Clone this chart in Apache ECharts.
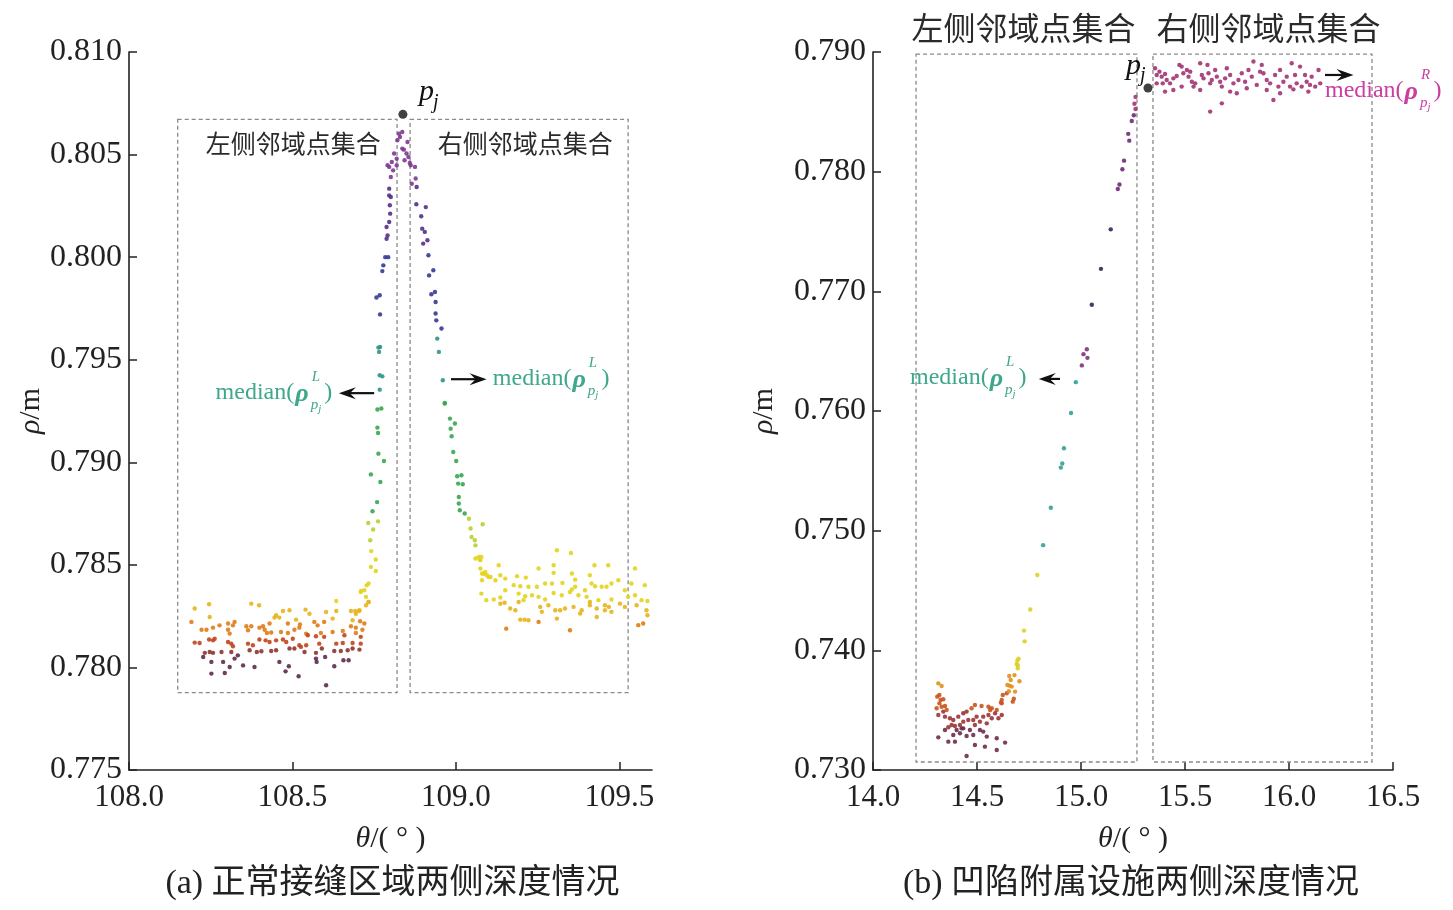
<!DOCTYPE html>
<html><head><meta charset="utf-8">
<script src="https://cdn.jsdelivr.net/npm/echarts@6/dist/echarts.min.js"></script>
<style>html,body{margin:0;padding:0;background:#fff}#c{width:1453px;height:910px}</style>
</head><body><div id="c"></div>
<script>
// ---------------- tick labels ----------------
const aXTicks = [108.0, 108.5, 109.0, 109.5];
const aYTicks = [0.775, 0.780, 0.785, 0.790, 0.795, 0.800, 0.805, 0.810];
const bXTicks = [14.0, 14.5, 15.0, 15.5, 16.0, 16.5];
const bYTicks = [0.730, 0.740, 0.750, 0.760, 0.770, 0.780, 0.790];

// ---------------- chart (a) data ----------------
const aLeftSet = [
[108.201,0.78287],[108.245,0.78308],[108.398,0.78303],[108.374,0.78311],[108.634,0.78324],[108.710,0.78373],[108.725,0.78344],[108.733,0.78319],[108.692,0.78275],[108.705,0.78279],[108.540,0.78282],[108.552,0.78262],[108.603,0.7827],[108.634,0.78275],[108.491,0.78279],[108.471,0.78275],[108.450,0.78254],
[108.191,0.78222],[108.247,0.78246],[108.303,0.78214],[108.323,0.78222],[108.318,0.78205],[108.359,0.78201],[108.374,0.78201],[108.410,0.78201],[108.430,0.78214],[108.445,0.78243],[108.460,0.78243],[108.486,0.78214],[108.511,0.78233],[108.523,0.78209],[108.567,0.78222],[108.577,0.78205],[108.597,0.78222],[108.623,0.78238],[108.684,0.7823],[108.707,0.78225],[108.720,0.78214],[108.679,0.78201],[108.694,0.78194],
[108.222,0.78184],[108.237,0.78184],[108.257,0.78194],[108.277,0.78205],[108.303,0.78184],[108.308,0.78165],[108.364,0.78181],[108.399,0.78194],[108.415,0.78184],[108.422,0.78168],[108.435,0.7817],[108.465,0.78173],[108.486,0.78168],[108.506,0.78184],[108.521,0.78194],[108.542,0.78165],[108.547,0.78157],[108.572,0.78152],[108.587,0.78168],[108.597,0.78149],[108.623,0.78173],[108.654,0.78178],[108.659,0.78157],[108.694,0.78168],[108.709,0.78149],[108.714,0.78184],
[108.201,0.78121],[108.216,0.78119],[108.245,0.78136],[108.257,0.78132],[108.262,0.7814],[108.303,0.78124],[108.313,0.78116],[108.318,0.78103],[108.364,0.78116],[108.379,0.78108],[108.399,0.78136],[108.418,0.78132],[108.430,0.78124],[108.450,0.78132],[108.471,0.78136],[108.481,0.78124],[108.501,0.7814],[108.521,0.78108],[108.526,0.781],[108.542,0.78108],[108.582,0.78116],[108.634,0.78116],[108.654,0.78119],[108.684,0.78119],[108.709,0.78116],
[108.232,0.78071],[108.247,0.78075],[108.257,0.78071],[108.283,0.78075],[108.313,0.78075],[108.333,0.78059],[108.369,0.78084],[108.391,0.78075],[108.405,0.78079],[108.435,0.7808],[108.450,0.78084],[108.491,0.78092],[108.506,0.78092],[108.537,0.78075],[108.572,0.78071],[108.590,0.78092],[108.628,0.7808],[108.648,0.7808],[108.669,0.78084],[108.684,0.78092],[108.705,0.78087],
[108.227,0.78051],[108.252,0.78027],[108.288,0.78027],[108.308,0.78002],[108.323,0.78043],[108.349,0.7801],[108.384,0.78002],[108.460,0.78027],[108.479,0.77981],[108.489,0.78006],[108.519,0.77957],[108.572,0.78043],[108.574,0.78027],[108.600,0.78051],[108.628,0.78006],[108.656,0.78035],[108.672,0.78035],[108.252,0.7797],[108.293,0.77973],[108.603,0.77913]
];
const aPeak = [
[108.760,0.79257],[108.772,0.79262],[108.760,0.79169],[108.762,0.79143],[108.763,0.79042],[108.780,0.79006],[108.740,0.78941],[108.769,0.78904],[108.759,0.78806],[108.745,0.78761],[108.732,0.78704],[108.762,0.78712],[108.747,0.78672],[108.738,0.7862],[108.741,0.78567],[108.755,0.78526],[108.740,0.7849],[108.755,0.7847],[108.727,0.784],[108.733,0.78409],[108.709,0.78368],[108.720,0.78376],[108.733,0.78319],[108.725,0.78303],[108.704,0.78275],[108.694,0.78262],[108.679,0.78275],
[108.826,0.80602],[108.836,0.8061],[108.821,0.8057],[108.829,0.80586],[108.811,0.80505],[108.819,0.8048],[108.804,0.80464],[108.796,0.8044],[108.791,0.80448],[108.808,0.80423],[108.819,0.80448],[108.801,0.80391],[108.796,0.80334],[108.796,0.80301],[108.801,0.80293],[108.798,0.80253],[108.799,0.80212],[108.796,0.80171],[108.788,0.80147],[108.791,0.80106],[108.788,0.8009],[108.784,0.8000],[108.793,0.8000],[108.778,0.7996],[108.775,0.79932],[108.767,0.79814],[108.757,0.79803],[108.768,0.79721],[108.763,0.79559],[108.768,0.79562],[108.765,0.79538],[108.767,0.79424],[108.775,0.79419],[108.767,0.79354],
[108.852,0.80561],[108.841,0.80524],[108.843,0.80472],
[108.836,0.80529],[108.849,0.80505],[108.855,0.80488],[108.859,0.80459],[108.862,0.80448],[108.875,0.8044],[108.877,0.80383],[108.865,0.80358],[108.880,0.80342],[108.879,0.80258],[108.908,0.80244],[108.894,0.80199],[108.897,0.80139],[108.905,0.80123],[108.900,0.80066],[108.913,0.80082],[108.916,0.80009],[108.931,0.79936],[108.918,0.79911],[108.936,0.7983],[108.925,0.79819],[108.938,0.79781],[108.938,0.79725],[108.940,0.79692],[108.956,0.79652],[108.943,0.79603],[108.948,0.79538],[108.960,0.794],[108.966,0.79286],
[108.966,0.79289],[108.982,0.79213],[108.997,0.79189],[108.984,0.79164],[108.987,0.79127],[108.992,0.7905],[109.001,0.79006],[109.004,0.78932],[109.017,0.78937],[109.007,0.78896],[109.021,0.78893],[109.009,0.78831],[109.009,0.78799],[109.012,0.78766],[109.027,0.7875],[109.040,0.78725],[109.045,0.78677],[109.048,0.78636],[109.058,0.7862],[109.060,0.78595],[109.073,0.78526],[109.078,0.78538],[109.082,0.78698],[109.075,0.78482],[109.085,0.78457],[109.095,0.78449],[109.106,0.78441]
];
const aRightSet = [
[109.070,0.78539],[109.075,0.78523],[109.060,0.78531],[109.131,0.78498],[109.309,0.78571],[109.352,0.78558],[109.080,0.78458],[109.090,0.78466],[109.100,0.78441],[109.080,0.78425],[109.121,0.78425],[109.136,0.78449],[109.151,0.78433],[109.187,0.78445],[109.214,0.78438],[109.253,0.78482],[109.299,0.78498],[109.299,0.78461],[109.355,0.78458],[109.365,0.78428],[109.410,0.78449],[109.424,0.78498],[109.466,0.78498],[109.476,0.78409],[109.497,0.78425],[109.548,0.78482],
[109.177,0.78401],[109.197,0.78396],[109.222,0.78393],[109.248,0.78393],[109.273,0.78409],[109.294,0.78409],[109.326,0.78412],[109.355,0.7838],[109.365,0.78393],[109.395,0.78376],[109.415,0.78409],[109.426,0.78396],[109.446,0.78393],[109.461,0.78393],[109.517,0.78376],[109.537,0.78409],[109.578,0.78401],
[109.078,0.7836],[109.116,0.78331],[109.136,0.78341],[109.151,0.78376],[109.192,0.7836],[109.212,0.78347],[109.233,0.78352],[109.253,0.78344],[109.273,0.78331],[109.299,0.78363],[109.324,0.78352],[109.349,0.78368],[109.375,0.78352],[109.400,0.78344],[109.410,0.78319],[109.436,0.78328],[109.456,0.78303],[109.476,0.78331],[109.502,0.78311],[109.527,0.78344],[109.548,0.78352],[109.568,0.78328],[109.586,0.78324],
[109.093,0.78328],[109.136,0.78311],[109.149,0.78315],[109.192,0.78319],[109.207,0.78328],[109.258,0.78295],[109.263,0.78271],[109.283,0.78303],[109.304,0.78279],[109.319,0.78279],[109.334,0.78287],[109.360,0.78295],[109.385,0.78279],[109.410,0.78303],[109.431,0.78287],[109.456,0.78279],[109.468,0.78295],[109.517,0.78295],[109.553,0.78303],[109.583,0.78279],
[109.166,0.78287],[109.182,0.78279],[109.197,0.78233],[109.210,0.78233],[109.222,0.7823],[109.253,0.78222],[109.309,0.78238],[109.380,0.78263],[109.431,0.78246],[109.476,0.78271],[109.558,0.78206],[109.573,0.78214],[109.586,0.78254],[109.154,0.78189],[109.349,0.78181]
];
const aPj = [[108.838, 0.80696]];
const aBoxes = [[108.149,0.80672,108.820,0.77877],[108.860,0.80672,109.527,0.77877]];

// ---------------- chart (b) data ----------------
const bLeftSet = [
[14.694,0.73914],[14.691,0.73886],[14.696,0.7385],[14.655,0.73786],[14.662,0.73752],[14.646,0.73711],[14.667,0.73697],[14.683,0.73655],[14.643,0.73641],[14.619,0.73585],[14.619,0.73557],[14.672,0.73571],
[14.314,0.73724],[14.330,0.73702],[14.319,0.73627],[14.309,0.73613],[14.325,0.73585],[14.338,0.73591],[14.319,0.73557],[14.330,0.73529],[14.346,0.73535],[14.306,0.73516],[14.338,0.73488],[14.354,0.73502],[14.314,0.7346],[14.346,0.73446],[14.370,0.73432],[14.386,0.73418],[14.410,0.73446],[14.434,0.73474],[14.450,0.73488],[14.474,0.73516],[14.490,0.73543],[14.522,0.73535],[14.555,0.73529],[14.571,0.73516],[14.595,0.73502],[14.587,0.73474],[14.619,0.7346],[14.555,0.7346],[14.530,0.73446],[14.498,0.73446],[14.482,0.73418],[14.458,0.73418],[14.434,0.73404],[14.418,0.73376],[14.394,0.73368],[14.362,0.73357],[14.346,0.73334],[14.402,0.73334],[14.426,0.73348],[14.466,0.73334],[14.490,0.73376],[14.514,0.73404],[14.547,0.7339],[14.571,0.73432],[14.514,0.73334],[14.530,0.73321],[14.418,0.73307],[14.386,0.73293],[14.450,0.73284],[14.482,0.73293],[14.547,0.73279],[14.595,0.73265],[14.314,0.73273],[14.362,0.73237],[14.394,0.73237],[14.490,0.73209],[14.538,0.73195],[14.595,0.73167],[14.450,0.73117],[14.635,0.73229],[14.563,0.73502],[14.603,0.73432],[14.378,0.73376],[14.434,0.73348]
];
const bRise = [
[15.185,0.77893],[15.143,0.77518],[15.096,0.77188],[15.052,0.76888],[15.028,0.76516],[15.012,0.76475],[15.031,0.76444],[15.004,0.76381],[14.975,0.76241],[14.952,0.75983],[14.918,0.75689],[14.910,0.75561],[14.903,0.75527],[14.855,0.75192],[14.818,0.74879],[14.790,0.74629],[14.756,0.74341],[14.726,0.74165],[14.729,0.74075],[14.700,0.73931],[14.696,0.73875],[14.680,0.73793],[14.704,0.73742],[14.656,0.73705],[14.653,0.73658],[14.624,0.73627],[14.615,0.73564],[14.677,0.73596],
[15.262,0.78625],[15.257,0.78567],[15.262,0.78524],[15.254,0.78472],[15.244,0.78423],[15.227,0.78316],[15.232,0.78259],[15.207,0.78092],[15.199,0.7802],[15.177,0.77855]
];
const bRightSet = [
[15.356,0.78864],[15.364,0.78808],[15.377,0.78836],[15.388,0.78794],[15.404,0.78816],[15.412,0.78766],[15.428,0.78738],[15.444,0.7878],[15.460,0.788],[15.473,0.78892],[15.484,0.78878],[15.492,0.78822],[15.509,0.7885],[15.517,0.78794],[15.525,0.78836],[15.533,0.78752],[15.549,0.78738],[15.573,0.78906],[15.581,0.78808],[15.589,0.7878],[15.608,0.78892],[15.613,0.78822],[15.621,0.78738],[15.629,0.78766],[15.645,0.7885],[15.653,0.78794],[15.669,0.78752],[15.677,0.78711],[15.693,0.7878],[15.701,0.78864],[15.717,0.78808],[15.733,0.78738],[15.749,0.78655],[15.757,0.78766],[15.773,0.78822],[15.789,0.78752],[15.805,0.7885],[15.821,0.78794],[15.829,0.7892],[15.845,0.78725],[15.861,0.78836],[15.869,0.78892],[15.877,0.78822],[15.893,0.78766],[15.909,0.78738],[15.925,0.78599],[15.933,0.78808],[15.949,0.78711],[15.957,0.7885],[15.973,0.78752],[15.989,0.78794],[16.005,0.78711],[16.013,0.78906],[16.029,0.78808],[16.037,0.78738],[16.053,0.78878],[16.061,0.78711],[16.077,0.78808],[16.085,0.78752],[16.101,0.78725],[16.109,0.78794],[16.126,0.78711],[16.142,0.7885],[16.150,0.78738],
[15.404,0.78669],[15.484,0.78711],[15.541,0.78711],[15.621,0.78502],[15.677,0.78571],[15.444,0.78683],[15.573,0.78683],[15.717,0.78669],[15.797,0.78697],[15.893,0.78683],[15.957,0.78655],[16.021,0.78688],[16.093,0.78669],[15.364,0.78738],[15.393,0.78738]
];
const bPj = [[15.322, 0.78699]];
const bBoxes = [[14.207,0.78983,15.269,0.73067],[15.346,0.78983,16.399,0.73067]];

// annotation anchors (data coordinates)
const aMedianLeft = {text:[108.265,0.79337], arrow:[108.750,108.642,0.79337]};
const aMedianRight = {text:[109.113,0.79405], arrow:[108.985,109.094,0.79405]};
const bMedianLeft = {text:[14.178,0.76276], arrow:[14.899,14.797,0.76268]};
const bMedianRight = {text:[16.173,0.78674], arrow:[16.173,16.310,0.78808]};

// colour bands (by depth)
const aBands = [
 {lt:0.7806,color:'#5e2a4e'},{gte:0.7806,lt:0.7810,color:'#8e3530'},{gte:0.7810,lt:0.7816,color:'#c0451c'},
 {gte:0.7816,lt:0.7823,color:'#e07c16'},{gte:0.7823,lt:0.7832,color:'#e6b41a'},{gte:0.7832,lt:0.7858,color:'#e2d41e'},
 {gte:0.7858,lt:0.7875,color:'#b8d030'},{gte:0.7875,lt:0.7935,color:'#3aa650'},{gte:0.7935,lt:0.7965,color:'#2e958a'},
 {gte:0.7965,lt:0.8005,color:'#353a92'},{gte:0.8005,lt:0.8035,color:'#55308a'},{gte:0.8035,color:'#7e3a90'}
];
const bBands = [
 {lt:0.7335,color:'#6e2c4c'},{gte:0.7335,lt:0.7350,color:'#9a3436'},{gte:0.7350,lt:0.7365,color:'#c9541e'},
 {gte:0.7365,lt:0.7382,color:'#e0901c'},{gte:0.7382,lt:0.7480,color:'#dccf22'},{gte:0.7480,lt:0.7635,color:'#34a092'},
 {gte:0.7635,lt:0.7665,color:'#7e3580'},{gte:0.7665,lt:0.7775,color:'#2a2a5e'},{gte:0.7775,lt:0.7850,color:'#6e2c74'},
 {gte:0.7850,color:'#a23474'}
];

const SERIF = '"Liberation Serif","Times New Roman","DejaVu Serif",serif';
const CJK = '"Noto Sans CJK SC","Noto Sans",sans-serif';
const INK = '#222';
const TEAL = '#3ea78c';
const MAG = '#cc3d9f';

function xAxis(g, min, max, ticks){
  return {gridIndex:g, type:'value', min, max,
    axisLine:{show:true, onZero:false, lineStyle:{color:INK, width:1.6}},
    axisTick:{show:true, inside:true, length:8, lineStyle:{color:INK, width:1.5}, customValues:ticks},
    axisLabel:{customValues:ticks, formatter:v=>Number(v).toFixed(1), fontFamily:SERIF, fontSize:31, color:INK, margin:12},
    splitLine:{show:false},
    name:'{i|θ}/( ° )', nameLocation:'middle', nameGap:54,
    nameTextStyle:{fontFamily:SERIF, fontSize:30, color:INK, rich:{i:{fontFamily:SERIF, fontStyle:'italic', fontSize:30, color:INK}}}
  };
}
function yAxis(g, min, max, ticks, gap){
  return {gridIndex:g, type:'value', min, max,
    axisLine:{show:true, onZero:false, lineStyle:{color:INK, width:1.6}},
    axisTick:{show:true, inside:true, length:8, lineStyle:{color:INK, width:1.5}, customValues:ticks},
    axisLabel:{customValues:ticks, formatter:v=>Number(v).toFixed(3), fontFamily:SERIF, fontSize:32, color:INK, margin:7},
    splitLine:{show:false},
    name:'{i|ρ}/m', nameLocation:'middle', nameGap:gap,
    nameTextStyle:{fontFamily:SERIF, fontSize:30, color:INK, rich:{i:{fontFamily:SERIF, fontStyle:'italic', fontSize:30, color:INK}}}
  };
}
function boxArea(boxes){
  return {silent:true, itemStyle:{color:'rgba(0,0,0,0)', borderColor:'#8a8a8a', borderWidth:1.3, borderType:[4,3]},
    data: boxes.map(b=>[{coord:[b[0],b[1]]},{coord:[b[2],b[3]]}])};
}
function scatter(g, data, size){
  return {type:'scatter', xAxisIndex:g, yAxisIndex:g, data, symbolSize:size||4.4, itemStyle:{opacity:0.9}, silent:true, z:3};
}

const chart = echarts.init(document.getElementById('c'));
chart.setOption({
  backgroundColor:'#fff',
  animation:false,
  grid:[{left:129, top:52, width:523, height:718}, {left:873, top:52, width:520, height:718}],
  xAxis:[xAxis(0,108.0,109.6,aXTicks), xAxis(1,14.0,16.5,bXTicks)],
  yAxis:[yAxis(0,0.775,0.810,aYTicks,80), yAxis(1,0.730,0.790,bYTicks,94)],
  visualMap:[
    {type:'piecewise', show:false, dimension:1, seriesIndex:[0,1,2], pieces:aBands},
    {type:'piecewise', show:false, dimension:1, seriesIndex:[4,5,6], pieces:bBands}
  ],
  series:[
    scatter(0,aLeftSet), scatter(0,aPeak), scatter(0,aRightSet),
    {type:'scatter', xAxisIndex:0, yAxisIndex:0, data:aPj, symbolSize:9, itemStyle:{color:'#111'}, z:5, silent:true, markArea:boxArea(aBoxes)},
    scatter(1,bLeftSet), scatter(1,bRise), scatter(1,bRightSet),
    {type:'scatter', xAxisIndex:1, yAxisIndex:1, data:bPj, symbolSize:9, itemStyle:{color:'#111'}, z:5, silent:true, markArea:boxArea(bBoxes)}
  ]
});

// ---------- annotations positioned through the axes ----------
const ctx = document.createElement('canvas').getContext('2d');
function measure(text, size, style, weight){ ctx.font = (style||'normal')+' '+(weight||'normal')+' '+size+'px '+SERIF; return ctx.measureText(text).width; }
function P(g, x, y){ return chart.convertToPixel({gridIndex:g}, [x,y]); }
function txt(text, x, y, size, color, opts){
  opts = opts||{};
  return {type:'text', x, y, silent:true, z:10, style:{text, fill:color, fontSize:size, fontFamily:opts.family||SERIF,
    fontStyle:opts.style||'normal', fontWeight:opts.weight||'normal',
    align:opts.align||'left', verticalAlign:opts.valign||'middle', textAlign:opts.align||'left', textVerticalAlign:opts.valign||'middle'}};
}
function medianLabel(x0, y0, color, sup){
  const els=[]; let x=x0;
  els.push(txt('median(', x, y0, 24, color)); x += measure('median(',24)+1;
  els.push(txt('ρ', x, y0+1, 26, color, {style:'italic', weight:'bold'})); x += measure('ρ',26,'italic','bold')+2;
  els.push(txt(sup, x+1, y0-16, 15, color, {style:'italic'}));
  els.push(txt('p', x, y0+12, 15, color, {style:'italic'}));
  els.push(txt('j', x+measure('p',15,'italic'), y0+16, 11, color, {style:'italic'}));
  x += Math.max(measure(sup,15,'italic')+1, measure('p',15,'italic')+measure('j',11,'italic')) + 3;
  els.push(txt(')', x, y0, 24, color));
  return els;
}
function arrow(xa, xb, y){ // from xa to xb, head at xb
  const dir = xb > xa ? 1 : -1;
  return [
    {type:'line', silent:true, z:10, shape:{x1:xa, y1:y, x2:xb-dir*8, y2:y}, style:{stroke:'#111', lineWidth:2.2}},
    {type:'polygon', silent:true, z:10, shape:{points:[[xb,y],[xb-dir*17,y-6],[xb-dir*11,y],[xb-dir*17,y+6]]}, style:{fill:'#111'}}
  ];
}
function pjLabel(px, py){
  return [txt('p', px, py, 30, '#111', {style:'italic'}), txt('j', px+measure('p',30,'italic')-1, py+10, 20, '#111', {style:'italic'})];
}
const G = [];
// chart a
(function(){
  const t1 = P(0, ...aMedianLeft.text), a1 = P(0, aMedianLeft.arrow[0], aMedianLeft.arrow[2]), a1b = P(0, aMedianLeft.arrow[1], aMedianLeft.arrow[2]);
  G.push(...medianLabel(t1[0], t1[1], TEAL, 'L'), ...arrow(a1[0], a1b[0], a1[1]));
  const t2 = P(0, ...aMedianRight.text), a2 = P(0, aMedianRight.arrow[0], aMedianRight.arrow[2]), a2b = P(0, aMedianRight.arrow[1], aMedianRight.arrow[2]);
  G.push(...medianLabel(t2[0], t2[1], TEAL, 'L'), ...arrow(a2[0], a2b[0], a2[1]));
  const pj = P(0, ...aPj[0]); G.push(...pjLabel(pj[0]+16, pj[1]-22));
  aBoxes.forEach((b,i)=>{ const p1=P(0,b[0],b[1]), p2=P(0,b[2],b[3]);
    G.push(txt(i===0?'左侧邻域点集合':'右侧邻域点集合', (p1[0]+p2[0])/2+6, p1[1]+24, 25, '#2a2a2a', {family:CJK, align:'center'})); });
})();
// chart b
(function(){
  const t1 = P(1, ...bMedianLeft.text), a1 = P(1, bMedianLeft.arrow[0], bMedianLeft.arrow[2]), a1b = P(1, bMedianLeft.arrow[1], bMedianLeft.arrow[2]);
  G.push(...medianLabel(t1[0], t1[1], TEAL, 'L'), ...arrow(a1[0], a1b[0], a1[1]));
  const t2 = P(1, ...bMedianRight.text), a2 = P(1, bMedianRight.arrow[0], bMedianRight.arrow[2]), a2b = P(1, bMedianRight.arrow[1], bMedianRight.arrow[2]);
  G.push(...medianLabel(t2[0], t2[1], MAG, 'R'), ...arrow(a2[0], a2b[0], a2[1]));
  const pj = P(1, ...bPj[0]); G.push(...pjLabel(pj[0]-22, pj[1]-22));
  const offs = [-3, 6];
  bBoxes.forEach((b,i)=>{ const p1=P(1,b[0],b[1]), p2=P(1,b[2],b[3]);
    G.push(txt(i===0?'左侧邻域点集合':'右侧邻域点集合', (p1[0]+p2[0])/2+offs[i], p1[1]-26, 32, '#2a2a2a', {family:CJK, align:'center'})); });
})();
// captions under each panel
const capA = P(0, 108.8, 0.775), capB = P(1, 15.25, 0.730);
G.push(txt('(a) 正常接缝区域两侧深度情况', capA[0]+2, 884, 34, INK, {family:SERIF+','+CJK, align:'center'}));
G.push(txt('(b) 凹陷附属设施两侧深度情况', capB[0]-2, 884, 34, INK, {family:SERIF+','+CJK, align:'center'}));
chart.setOption({graphic:G});
</script></body></html>
